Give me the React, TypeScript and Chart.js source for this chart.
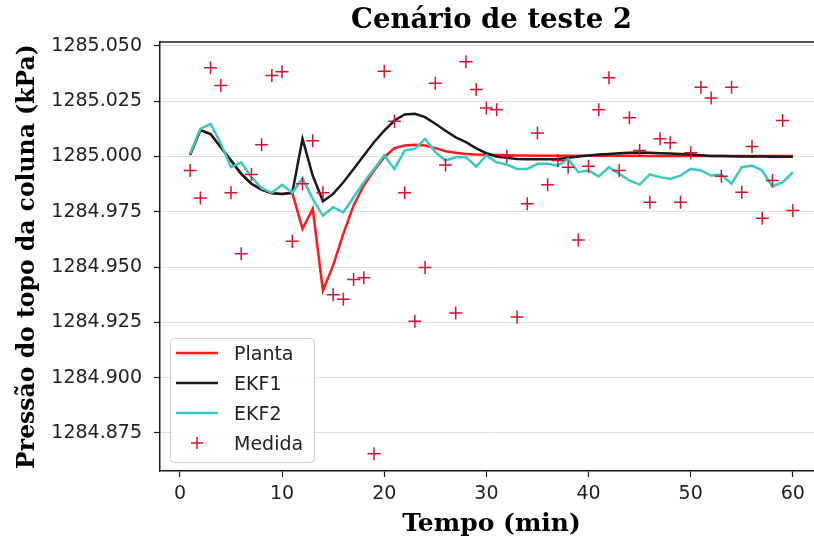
import React, { useEffect, useRef } from "react";
import { Chart, registerables } from "chart.js";

Chart.register(...registerables);

const minutes = [
  1, 2, 3, 4, 5, 6, 7, 8, 9, 10, 11, 12, 13, 14, 15, 16, 17, 18, 19, 20,
  21, 22, 23, 24, 25, 26, 27, 28, 29, 30, 31, 32, 33, 34, 35, 36, 37, 38, 39, 40,
  41, 42, 43, 44, 45, 46, 47, 48, 49, 50, 51, 52, 53, 54, 55, 56, 57, 58, 59, 60,
];

const planta = [
  1285.0008, 1285.012, 1285.0102, 1285.0042, 1284.9982, 1284.9922, 1284.9877, 1284.9851, 1284.9834, 1284.9831,
  1284.9836, 1284.9673, 1284.9764, 1284.9394, 1284.9508, 1284.9651, 1284.9779, 1284.9869, 1284.9937, 1284.9997,
  1285.0038, 1285.005, 1285.0053, 1285.005, 1285.0038, 1285.0024, 1285.0017, 1285.0012, 1285.0009, 1285.0008,
  1285.0007, 1285.0006, 1285.0005, 1285.0005, 1285.0004, 1285.0004, 1285.0004, 1285.0004, 1285.0004, 1285.0004,
  1285.0004, 1285.0004, 1285.0004, 1285.0004, 1285.0004, 1285.0003, 1285.0003, 1285.0003, 1285.0003, 1285.0003,
  1285.0003, 1285.0003, 1285.0003, 1285.0003, 1285.0003, 1285.0003, 1285.0002, 1285.0002, 1285.0002, 1285.0002,
];

const ekf1 = [
  1285.0008, 1285.012, 1285.0102, 1285.0042, 1284.9982, 1284.9922, 1284.9877, 1284.9851, 1284.9834, 1284.9831,
  1284.9836, 1285.008, 1284.9914, 1284.9798, 1284.9831, 1284.9884, 1284.9944, 1285.0005, 1285.0065, 1285.0117,
  1285.0163, 1285.019, 1285.0193, 1285.0178, 1285.0148, 1285.0117, 1285.0087, 1285.0065, 1285.0037, 1285.0015,
  1285.0, 1284.9994, 1284.9989, 1284.9988, 1284.9988, 1284.9988, 1284.9989, 1284.9994, 1285.0, 1285.0005,
  1285.0009, 1285.0012, 1285.0015, 1285.0017, 1285.0018, 1285.0017, 1285.0015, 1285.0014, 1285.0012, 1285.0009,
  1285.0006, 1285.0003, 1285.0002, 1285.0001, 1285.0, 1285.0, 1285.0, 1284.9999, 1284.9999, 1284.9999,
];

const ekf2 = [
  1285.0012, 1285.0125, 1285.0148, 1285.006, 1284.9952, 1284.9974, 1284.9907, 1284.9857, 1284.9836, 1284.9872,
  1284.9836, 1284.9902, 1284.9809, 1284.9733, 1284.9771, 1284.9748, 1284.9816, 1284.9884, 1284.9944, 1285.0005,
  1284.9944, 1285.0027, 1285.0035, 1285.008, 1285.002, 1284.9982, 1284.9997, 1284.9997, 1284.9955, 1285.0005,
  1284.9974, 1284.9964, 1284.9944, 1284.9944, 1284.9967, 1284.9967, 1284.9959, 1284.9989, 1284.9929, 1284.9937,
  1284.991, 1284.9952, 1284.9922, 1284.9892, 1284.9873, 1284.9919, 1284.9907, 1284.9899, 1284.9914, 1284.9944,
  1284.9937, 1284.9914, 1284.9919, 1284.9877, 1284.9952, 1284.9959, 1284.9937, 1284.9864, 1284.9884, 1284.9929,
];

const medida = [
  1284.9937, 1284.9812, 1285.0401, 1285.0321, 1284.9836, 1284.956, 1284.9919, 1285.0053, 1285.0366, 1285.0384,
  1284.9617, 1284.9877, 1285.0072, 1284.9836, 1284.9375, 1284.9355, 1284.9444, 1284.9452, 1284.8656, 1285.0386,
  1285.016, 1284.9836, 1284.9255, 1284.9498, 1285.0331, 1284.9962, 1284.9292, 1285.0429, 1285.0303, 1285.022,
  1285.0212, 1285.0001, 1284.9274, 1284.9786, 1285.0107, 1284.9873, 1284.9982, 1284.9952, 1284.9623, 1284.9956,
  1285.0212, 1285.0356, 1284.9937, 1285.0175, 1285.0027, 1284.9793, 1285.008, 1285.0062, 1284.9793, 1285.0017,
  1285.0313, 1285.0265, 1284.9911, 1285.0313, 1284.9839, 1285.0045, 1284.9721, 1284.9892, 1285.0163, 1284.9756,
];

const xTicks = [0, 10, 20, 30, 40, 50, 60];
const yTicks = [1284.875, 1284.9, 1284.925, 1284.95, 1284.975, 1285.0, 1285.025, 1285.05];
const xRange = [-1.95, 62.95];
const yRange = [1284.8578, 1285.0518];

const seriesLabels = ["Planta", "EKF1", "EKF2", "Medida"];
const seriesColors = ["#ff1a1a", "#1a1a1a", "#3cc8c0", "#d6102e"];

const toPoints = (ys: number[]) => minutes.map((x, i) => ({ x, y: ys[i] }));

const framePlugin = {
  id: "frame",
  beforeDatasetsDraw(chart: any) {
    const { ctx, chartArea } = chart;
    ctx.save();
    ctx.strokeStyle = "#1a1a1a";
    ctx.lineWidth = 1.5;
    ctx.beginPath();
    ctx.moveTo(chartArea.left, chartArea.top);
    ctx.lineTo(chartArea.right, chartArea.top);
    ctx.stroke();
    ctx.restore();
  },
};

const legendPlugin = {
  id: "insideLegend",
  afterDraw(chart: any) {
    const { ctx, chartArea } = chart;
    const x0 = chartArea.left + 10;
    const w = 144;
    const h = 124;
    const y0 = chartArea.bottom - 9 - h;
    ctx.save();
    ctx.beginPath();
    ctx.roundRect(x0 + 0.5, y0 + 0.5, w, h, 4);
    ctx.fillStyle = "rgba(255,255,255,0.85)";
    ctx.fill();
    ctx.strokeStyle = "#cccccc";
    ctx.lineWidth = 1;
    ctx.stroke();
    chart.data.datasets.forEach((ds: any, i: number) => {
      const cy = y0 + 15 + i * 30;
      ctx.strokeStyle = ds.borderColor;
      if (ds.showLine === false) {
        const cx = x0 + 27;
        ctx.lineWidth = 1.5;
        ctx.beginPath();
        ctx.moveTo(cx - 6, cy);
        ctx.lineTo(cx + 6, cy);
        ctx.moveTo(cx, cy - 6);
        ctx.lineTo(cx, cy + 6);
        ctx.stroke();
      } else {
        ctx.lineWidth = 2.5;
        ctx.beginPath();
        ctx.moveTo(x0 + 6, cy);
        ctx.lineTo(x0 + 48, cy);
        ctx.stroke();
      }
      ctx.fillStyle = "#222";
      ctx.font = "19px 'DejaVu Sans'";
      ctx.textAlign = "left";
      ctx.textBaseline = "middle";
      ctx.fillText(ds.label, x0 + 64, cy + 2);
    });
    ctx.restore();
  },
};

export default function App() {
  const ref = useRef<HTMLCanvasElement | null>(null);

  useEffect(() => {
    if (!ref.current) return;
    Chart.defaults.font.family = "'DejaVu Sans'";
    const lineDs = (idx: number, ys: number[], order: number) => ({
      label: seriesLabels[idx],
      data: toPoints(ys),
      borderColor: seriesColors[idx],
      backgroundColor: seriesColors[idx],
      borderWidth: 2.5,
      pointRadius: 0,
      tension: 0,
      showLine: true,
      order,
    });
    const chart = new Chart(ref.current, {
      type: "scatter",
      data: {
        datasets: [
          lineDs(0, planta, 3),
          lineDs(1, ekf1, 2),
          lineDs(2, ekf2, 1),
          {
            label: seriesLabels[3],
            data: toPoints(medida),
            borderColor: seriesColors[3],
            backgroundColor: seriesColors[3],
            showLine: false,
            pointStyle: "cross",
            pointRadius: 6.5,
            pointBorderWidth: 1.5,
            borderWidth: 1.5,
            order: 0,
          } as any,
        ],
      },
      options: {
        responsive: false,
        animation: false,
        layout: { padding: { left: 0, right: 27, top: 0, bottom: 0 } },
        plugins: {
          legend: { display: false },
          tooltip: { enabled: false },
          title: {
            display: true,
            text: "Cenário de teste 2",
            fullSize: false,
            color: "#000",
            font: { family: "'DejaVu Serif'", weight: "bold", size: 27.5 },
            padding: { top: 4, bottom: 5 },
          },
        },
        scales: {
          x: {
            type: "linear",
            min: xRange[0],
            max: xRange[1],
            afterBuildTicks: (s: any) => {
              s.ticks = xTicks.map((v) => ({ value: v }));
            },
            afterFit: (s: any) => {
              s.height = 74;
            },
            grid: { drawOnChartArea: false, drawTicks: true, tickLength: 6, tickColor: "#1a1a1a", tickWidth: 1.2 },
            border: { display: true, color: "#1a1a1a", width: 1.5 },
            ticks: { color: "#222", font: { size: 19 }, padding: 6, maxRotation: 0, callback: (v: any) => String(v) },
            title: {
              display: true,
              text: "Tempo (min)",
              color: "#000",
              font: { family: "'DejaVu Serif'", weight: "bold", size: 25 },
              padding: { top: 0, bottom: 6 },
            },
          },
          y: {
            type: "linear",
            min: yRange[0],
            max: yRange[1],
            afterBuildTicks: (s: any) => {
              s.ticks = yTicks.map((v) => ({ value: v }));
            },
            afterFit: (s: any) => {
              s.width = 160;
            },
            grid: { color: "#dedede", lineWidth: 1, drawTicks: true, tickLength: 6, tickColor: "#1a1a1a", tickWidth: 1.2 },
            border: { display: true, color: "#1a1a1a", width: 1.5 },
            ticks: { color: "#222", font: { size: 19 }, padding: 12, callback: (v: any) => Number(v).toFixed(3) },
            title: {
              display: true,
              text: "Pressão do topo da coluna (kPa)",
              color: "#000",
              font: { family: "'DejaVu Serif'", weight: "bold", size: 23.5 },
              padding: { top: 13.5, bottom: 0 },
            },
          },
        },
      },
      plugins: [framePlugin, legendPlugin],
    });
    return () => chart.destroy();
  }, []);

  return (
    <div style={{ position: "fixed", left: 0, top: 0, width: 814, height: 545, overflow: "hidden", background: "#fff" }}>
      <canvas ref={ref} width={850} height={545} style={{ display: "block" }} />
    </div>
  );
}
